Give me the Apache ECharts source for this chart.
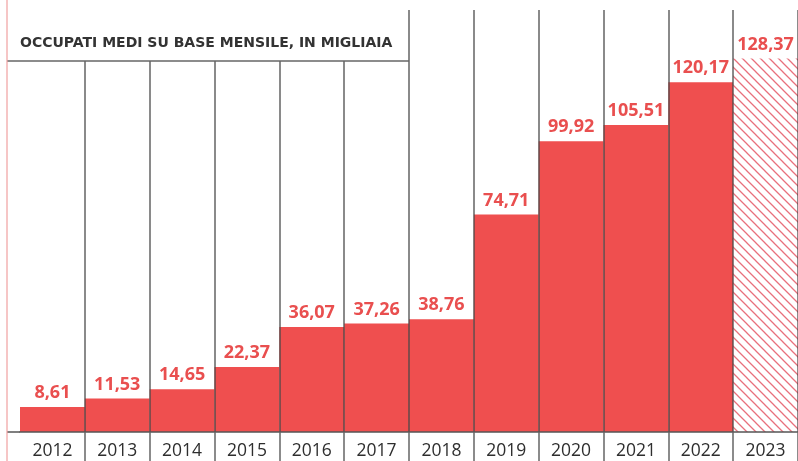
<!DOCTYPE html>
<html>
<head>
<meta charset="utf-8">
<script src="https://cdn.jsdelivr.net/npm/echarts@6/dist/echarts.min.js"></script>
<style>
  html, body { margin: 0; padding: 0; background: #fff; }
  #chart { width: 798px; height: 461px; }
</style>
</head>
<body>
<div id="chart"></div>
<script>
const years = ['2012', '2013', '2014', '2015', '2016', '2017', '2018', '2019', '2020', '2021', '2022', '2023']
const values = [8.61, 11.53, 14.65, 22.37, 36.07, 37.26, 38.76, 74.71, 99.92, 105.51, 120.17, 128.37]
const forecastYears = ['2023']
const titleText = 'OCCUPATI MEDI SU BASE MENSILE, IN MIGLIAIA'
const boxedYears = 6 // title box covers 2012-2017

const chart = echarts.init(document.getElementById('chart'))

// diagonal hatch for the estimated year
function hatch() {
  const s = 9
  const c = document.createElement('canvas')
  c.width = s
  c.height = s
  const ctx = c.getContext('2d')
  ctx.fillStyle = '#fff'
  ctx.fillRect(0, 0, s, s)
  ctx.strokeStyle = '#e8707c'
  ctx.lineWidth = 1.3
  ctx.beginPath()
  ctx.moveTo(-1, -1); ctx.lineTo(s + 1, s + 1)
  ctx.moveTo(-1, s - 1); ctx.lineTo(1, s + 1)
  ctx.moveTo(s - 1, -1); ctx.lineTo(s + 1, 1)
  ctx.stroke()
  return c
}
const hatchPattern = { image: hatch(), repeat: 'repeat' }

const lineColor = 'rgba(70,70,70,0.85)'

const option = {
  animation: false,
  grid: { left: 20, right: 0, top: 10, bottom: 29 },
  xAxis: {
    type: 'category',
    data: years,
    z: 5,
    boundaryGap: true,
    axisLine: { lineStyle: { color: '#555', width: 1.5 } },
    axisTick: {
      show: true,
      length: 29,
      alignWithLabel: false,
      interval: (i) => i !== 0,
      lineStyle: { color: '#666', width: 1.5 }
    },
    axisLabel: {
      color: '#2e2e2e',
      fontSize: 17.5,
      fontFamily: 'Open Sans',
      margin: 10
    },
    splitLine: {
      show: true,
      interval: (i) => i !== 0,
      lineStyle: { color: lineColor, width: 1.5 }
    }
  },
  yAxis: {
    type: 'value',
    min: 0,
    max: 145,
    show: false,
    splitLine: { show: false }
  },
  series: [{
    type: 'bar',
    barCategoryGap: 0,
    data: values.map((v, i) => ({
      value: v,
      itemStyle: forecastYears.includes(years[i]) ? { color: hatchPattern } : {}
    })),
    itemStyle: { color: '#ef4f4f' },
    label: {
      show: true,
      position: 'top',
      distance: 5,
      color: '#e94f4f',
      fontSize: 18,
      fontWeight: 'bold',
      fontFamily: 'Open Sans',
      formatter: (p) => p.value.toFixed(2).replace('.', ',')
    }
  }]
}

chart.setOption(option)

// frame and title box, placed from the axis scale
const x0 = chart.convertToPixel({ xAxisIndex: 0 }, years[0])
const x1 = chart.convertToPixel({ xAxisIndex: 0 }, years[1])
const band = x1 - x0
const boxRight = chart.convertToPixel({ xAxisIndex: 0 }, years[boxedYears]) - band / 2
const base = chart.convertToPixel({ yAxisIndex: 0 }, 0)
const boxBottom = 61
const frameX = 7

chart.setOption({
  graphic: [
    { type: 'rect', z: 100, shape: { x: frameX + 1, y: 0, width: boxRight - frameX - 2, height: boxBottom }, style: { fill: '#fff' } },
    { type: 'line', z: 101, shape: { x1: frameX, y1: boxBottom, x2: boxRight, y2: boxBottom }, style: { stroke: '#666', lineWidth: 1.5 } },
    { type: 'line', z: 101, shape: { x1: frameX, y1: base, x2: x0 - band / 2, y2: base }, style: { stroke: '#555', lineWidth: 1.5 } },
    { type: 'line', z: 101, shape: { x1: frameX, y1: 0, x2: frameX, y2: 461 }, style: { stroke: '#f0a0a0', lineWidth: 1.2 } },
    {
      type: 'text', z: 102, left: 20, top: 36,
      style: { text: titleText, fill: '#333', font: 'bold 14px "DejaVu Sans"' }
    }
  ]
})
</script>
</body>
</html>
